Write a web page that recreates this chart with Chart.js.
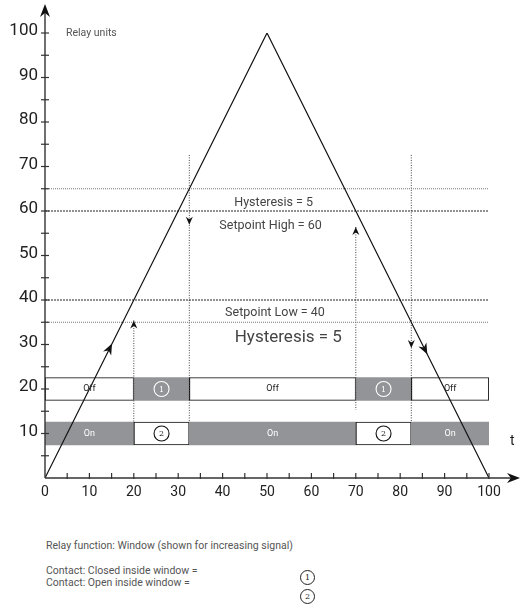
<!DOCTYPE html>
<html>
<head>
<meta charset="utf-8">
<script src="https://cdn.jsdelivr.net/npm/chart.js@4.4.1/dist/chart.umd.min.js"></script>
<style>
  body { margin: 0; background: #fff; }
  #wrap { position: relative; width: 522px; height: 605px; font-family: Roboto, sans-serif; }
  #relayChart { position: absolute; left: 0; top: 0; }
  .note { position: absolute; font-size: 10.5px; line-height: 12px; color: #555; white-space: nowrap; }
  .circ { position: absolute; width: 13px; height: 13px; border: 1px solid #222; border-radius: 50%;
          font: 8px "DejaVu Serif", serif; line-height: 13px; text-align: center; color: #222; }
</style>
</head>
<body>
<div id="wrap">
  <canvas id="relayChart" width="522" height="500"></canvas>
  <div class="note" style="left:46px;top:540px">Relay function: Window (shown for increasing signal)</div>
  <div class="note" style="left:46px;top:565px">Contact: Closed inside window =</div>
  <div class="note" style="left:46px;top:577px">Contact: Open inside window =</div>
  <div class="circ" style="left:300px;top:570px">1</div>
  <div class="circ" style="left:300px;top:589px">2</div>
</div>
<script>
// signal (triangle)
var signalX = [0, 50, 100]
var signalY = [0, 100, 0]

// setpoints and hysteresis
var hysteresisHigh = 65, setpointHigh = 60, setpointLow = 40, hysteresisLow = 35

// switching lines
var switchX = [20, 32.5, 70, 82.5]
var switchTop = [35.4, 72.6, 56.4, 72.6]
var switchBottom = [12.5, 12.5, 15.3, 12.5]
var switchDir = ['up', 'down', 'up', 'down']
var switchArrowTip = [35.4, 56.9, 56.4, 29.2]

// arrows on the signal line
var signalArrowX = [15.1, 86.1]
var signalArrowY = [30.2, 27.8]

// relay rows
var segStart = [0, 20, 32.5, 70, 82.5]
var segEnd = [20, 32.5, 70, 82.5, 100]
var row1State = ['Off', '1', 'Off', '1', 'Off']
var row2State = ['On', '2', 'On', '2', 'On']
var row1Level = 20, row2Level = 10

var GRAY = '#939497'

var barData = [], barColors = [], barBorders = [], barLabels = []
for (var i = 0; i < segStart.length; i++) {
    barData.push({ x: [segStart[i], segEnd[i]], y: row1Level })
    barColors.push(row1State[i] == 'Off' ? '#ffffff' : GRAY)
    barBorders.push(row1State[i] == 'Off' ? 1.2 : 0)
    barLabels.push(row1State[i])
}
for (var i = 0; i < segStart.length; i++) {
    barData.push({ x: [segStart[i], segEnd[i]], y: row2Level })
    barColors.push(row2State[i] == 'On' ? GRAY : '#ffffff')
    barBorders.push(row2State[i] == 'On' ? 0 : 1.2)
    barLabels.push(row2State[i])
}

function hLine(v) { return [{ x: 0, y: v }, { x: 100, y: v }] }

var datasets = [
    {
        type: 'scatter', showLine: true, order: 1,
        data: signalX.map(function (x, i) { return { x: x, y: signalY[i] } }),
        borderColor: '#111', borderWidth: 1.2, pointRadius: 0
    },
    { type: 'scatter', showLine: true, order: 2, data: hLine(hysteresisHigh), borderColor: '#777', borderWidth: 1, borderDash: [1, 1], pointRadius: 0 },
    { type: 'scatter', showLine: true, order: 2, data: hLine(setpointHigh), borderColor: '#222', borderWidth: 1, borderDash: [2, 1], pointRadius: 0 },
    { type: 'scatter', showLine: true, order: 2, data: hLine(setpointLow), borderColor: '#222', borderWidth: 1, borderDash: [2, 1], pointRadius: 0 },
    { type: 'scatter', showLine: true, order: 2, data: hLine(hysteresisLow), borderColor: '#777', borderWidth: 1, borderDash: [1, 1], pointRadius: 0 }
]
for (var i = 0; i < switchX.length; i++) {
    datasets.push({
        type: 'scatter', showLine: true, order: 2,
        data: [{ x: switchX[i], y: switchTop[i] }, { x: switchX[i], y: switchBottom[i] }],
        borderColor: '#444', borderWidth: 1, borderDash: [1, 1.5], pointRadius: 0
    })
}
datasets.push({
    type: 'bar', indexAxis: 'y', order: 5,
    data: barData,
    backgroundColor: barColors,
    borderColor: '#111',
    borderWidth: barBorders,
    borderSkipped: false,
    barThickness: 23
})

function arrowHead(ctx, tx, ty, dx, dy, len, half) {
    var px = -dy, py = dx
    var bx = tx - dx * len, by = ty - dy * len
    ctx.beginPath()
    ctx.moveTo(tx, ty)
    ctx.lineTo(bx + px * half, by + py * half)
    ctx.lineTo(tx - dx * len * 0.7, ty - dy * len * 0.7)
    ctx.lineTo(bx - px * half, by - py * half)
    ctx.closePath()
    ctx.fill()
}

var RelayDecor = {
    id: 'RelayDecor',
    afterDatasetsDraw: function (chart) {
        var ctx = chart.ctx, xs = chart.scales.x, ys = chart.scales.y
        var x0 = xs.getPixelForValue(0), y0 = ys.getPixelForValue(0)
        ctx.save()

        // axes
        ctx.strokeStyle = '#333'; ctx.fillStyle = '#111'; ctx.lineWidth = 1.4
        ctx.beginPath(); ctx.moveTo(x0, y0); ctx.lineTo(x0, 12); ctx.stroke()
        ctx.beginPath(); ctx.moveTo(x0, y0); ctx.lineTo(512, y0); ctx.stroke()
        arrowHead(ctx, x0, 4, 0, -1, 13, 5)
        arrowHead(ctx, 520, y0, 1, 0, 13, 5)
        ctx.lineWidth = 1.2
        for (var v = 5; v <= 100; v += 5) {
            var py = ys.getPixelForValue(v)
            ctx.beginPath(); ctx.moveTo(x0 - 4, py); ctx.lineTo(x0 + 4, py); ctx.stroke()
            var px = xs.getPixelForValue(v)
            ctx.beginPath(); ctx.moveTo(px, y0 - 5); ctx.lineTo(px, y0 + 1); ctx.stroke()
        }

        // arrows on switching lines
        ctx.fillStyle = '#111'
        for (var i = 0; i < switchX.length; i++) {
            var sx = xs.getPixelForValue(switchX[i])
            var dir = switchDir[i] == 'up' ? -1 : 1
            arrowHead(ctx, sx, ys.getPixelForValue(switchArrowTip[i]), 0, dir, 8, 3.5)
        }
        // arrows on the signal
        for (var i = 0; i < signalArrowX.length; i++) {
            var a = xs.getPixelForValue(signalX[i]), b = ys.getPixelForValue(signalY[i])
            var c = xs.getPixelForValue(signalX[i + 1]), d = ys.getPixelForValue(signalY[i + 1])
            var L = Math.hypot(c - a, d - b)
            arrowHead(ctx, xs.getPixelForValue(signalArrowX[i]), ys.getPixelForValue(signalArrowY[i]), (c - a) / L, (d - b) / L, 11, 4.5)
        }

        // bar labels
        var meta = chart.getDatasetMeta(chart.data.datasets.length - 1)
        ctx.textAlign = 'center'; ctx.textBaseline = 'middle'
        meta.data.forEach(function (bar, k) {
            var cx = (bar.x + bar.base) / 2, cy = bar.y
            var lab = barLabels[k]
            if (lab == 'Off' || lab == 'On') {
                ctx.fillStyle = lab == 'Off' ? '#222' : '#fff'
                ctx.font = '9px Roboto'
                ctx.fillText(lab, cx, cy)
            } else {
                var col = lab == '1' ? '#fff' : '#111'
                ctx.strokeStyle = col; ctx.fillStyle = col; ctx.lineWidth = 1.1
                ctx.beginPath(); ctx.arc(cx, cy, 7.5, 0, Math.PI * 2); ctx.stroke()
                ctx.font = '8px "DejaVu Serif"'
                ctx.fillText(lab, cx, cy + 0.5)
            }
        })

        // annotations
        ctx.fillStyle = '#444'
        ctx.font = '12.5px Roboto'
        ctx.fillText('Hysteresis = 5', xs.getPixelForValue(51.5), ys.getPixelForValue(61.9))
        ctx.fillText('Setpoint High = 60', xs.getPixelForValue(50.8), ys.getPixelForValue(56.7))
        ctx.fillText('Setpoint Low = 40', xs.getPixelForValue(51.8), ys.getPixelForValue(37.1))
        ctx.font = '17px Roboto'
        ctx.fillText('Hysteresis = 5', xs.getPixelForValue(54.8), ys.getPixelForValue(31.5))
        ctx.font = '10.5px Roboto'; ctx.textAlign = 'left'; ctx.fillStyle = '#555'
        ctx.fillText('Relay units', 66, ys.getPixelForValue(100))
        ctx.font = '14px Roboto'; ctx.fillStyle = '#222'
        ctx.fillText('t', 510, 441)
        ctx.restore()
    }
}

var relayChart = new Chart(document.getElementById('relayChart').getContext('2d'), {
    type: 'scatter',
    data: { datasets: datasets },
    plugins: [RelayDecor],
    options: {
        responsive: false,
        animation: false,
        layout: { padding: { top: 33, right: 33, left: 0, bottom: 0 } },
        plugins: { legend: { display: false }, tooltip: { enabled: false } },
        scales: {
            x: {
                type: 'linear', min: 0, max: 100, offset: false,
                grid: { display: false, drawTicks: false, offset: false }, border: { display: false },
                ticks: { stepSize: 10, padding: 6, color: '#222', font: { family: 'Roboto', size: 14 } },
                afterFit: function (s) { s.height = 22 }
            },
            y: {
                type: 'linear', min: 0, max: 100, offset: false,
                grid: { display: false, drawTicks: false, offset: false }, border: { display: false },
                ticks: {
                    stepSize: 10, padding: 7, color: '#222', labelOffset: -2,
                    font: { family: 'Roboto', size: 17 },
                    callback: function (v) { return v == 0 ? '' : v }
                },
                afterFit: function (s) { s.width = 45 }
            }
        }
    }
})
</script>
</body>
</html>
